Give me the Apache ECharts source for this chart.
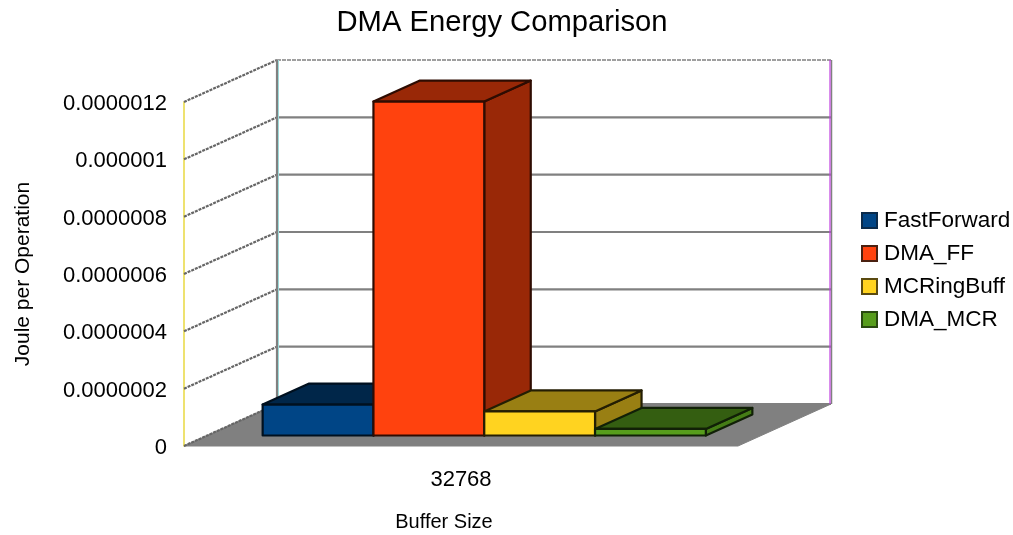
<!DOCTYPE html>
<html><head><meta charset="utf-8">
<style>html,body{margin:0;padding:0;background:#fff}#c{width:1013px;height:535px}</style>
<script src="https://cdn.jsdelivr.net/npm/echarts@6/dist/echarts.min.js"></script>
</head><body><div id="c"></div>
<script>
var categories = ['32768'];
var fastForward = [0.000000108];
var dmaFF = [0.000001165];
var mcRingBuff = [0.000000084];
var dmaMCR = [0.000000023];
var yTicks = [0, 0.0000002, 0.0000004, 0.0000006, 0.0000008, 0.000001, 0.0000012];
var yTickLabels = ['0', '0.0000002', '0.0000004', '0.0000006', '0.0000008', '0.000001', '0.0000012'];

var seriesDefs = [
  {name:'FastForward', values:fastForward, front:'#004586', top:'#002649', side:'#002649', edge:'#00101f', key:'#0a2a4a'},
  {name:'DMA_FF', values:dmaFF, front:'#ff420e', top:'#992807', side:'#992807', edge:'#2e0c02', key:'#4a2010'},
  {name:'MCRingBuff', values:mcRingBuff, front:'#ffd320', top:'#997f13', side:'#997f13', edge:'#241e03', key:'#5a4a10'},
  {name:'DMA_MCR', values:dmaMCR, front:'#579d1c', top:'#345e11', side:'#457d16', edge:'#112007', key:'#2a4a10'}
];
var DEPTH = [93, -42], BAR_FRONT = 0.25, BAR_BACK = 0.75, GAP = 0.1;
var FONT = '"Liberation Sans", Arial, sans-serif';

function pt(p, d){ return [p[0] + DEPTH[0]*d, p[1] + DEPTH[1]*d]; }

function renderFloor(params, api){
  var b = api.coord([0, 0]), w = api.size([1, 0])[0];
  var l = [b[0]-w/2, b[1]], r = [b[0]+w/2, b[1]];
  return {type:'polygon', silent:true, shape:{points:[l, r, pt(r,1), pt(l,1)]}, style:{fill:'#808080', stroke:'#808080', lineWidth:1}};
}
function renderGrid(params, api){
  var v = api.value(1), c = api.coord([0, v]), w = api.size([1, 0])[0];
  var l = [c[0]-w/2, c[1]], r = [c[0]+w/2, c[1]];
  var isTop = params.dataIndex === yTicks.length-1;
  return {type:'group', silent:true, children:[
    {type:'line', shape:{x1:l[0],y1:l[1],x2:pt(l,1)[0],y2:pt(l,1)[1]}, style:{stroke:'#666666', lineWidth:2.2, lineDash:[3,1]}},
    {type:'line', shape:{x1:pt(l,1)[0],y1:pt(l,1)[1],x2:pt(r,1)[0],y2:pt(r,1)[1]}, style:{stroke:'#808080', lineWidth:isTop?1.4:2.2, lineDash:isTop?[4,1]:null}}
  ]};
}
function renderWalls(params, api){
  var b = api.coord([0, 0]), t = api.coord([0, yTicks[yTicks.length-1]]), w = api.size([1, 0])[0];
  var bl = pt([b[0]-w/2,b[1]],1), tl = pt([t[0]-w/2,t[1]],1), br = pt([b[0]+w/2,b[1]],1), tr = pt([t[0]+w/2,t[1]],1);
  return {type:'group', silent:true, children:[
    {type:'line', shape:{x1:bl[0]+1.5,y1:bl[1],x2:tl[0]+1.5,y2:tl[1]}, style:{stroke:'#9fe4e4', lineWidth:1}},
    {type:'line', shape:{x1:bl[0],y1:bl[1],x2:tl[0],y2:tl[1]}, style:{stroke:'#808080', lineWidth:2.2}},
    {type:'line', shape:{x1:br[0]+0.5,y1:br[1],x2:tr[0]+0.5,y2:tr[1]}, style:{stroke:'#808080', lineWidth:1.5}},
    {type:'line', shape:{x1:br[0]-1,y1:br[1],x2:tr[0]-1,y2:tr[1]}, style:{stroke:'#c040e0', lineWidth:1.2}}
  ]};
}
function makeBar(def, idx){
  return function(params, api){
    var b = api.coord([0, 0]), c = api.coord([0, api.value(1)]), w = api.size([1, 0])[0];
    var x0 = b[0]-w/2 + w*GAP, bw = w*(1-2*GAP)/seriesDefs.length;
    var xl = x0 + bw*idx, xr = xl + bw;
    var fbl = pt([xl,b[1]],BAR_FRONT), fbr = pt([xr,b[1]],BAR_FRONT), ftl = pt([xl,c[1]],BAR_FRONT), ftr = pt([xr,c[1]],BAR_FRONT);
    var btl = pt([xl,c[1]],BAR_BACK), btr = pt([xr,c[1]],BAR_BACK), bbr = pt([xr,b[1]],BAR_BACK);
    var s = {stroke:def.edge, lineWidth:2.2, lineJoin:'round'};
    return {type:'group', children:[
      {type:'polygon', shape:{points:[ftr,btr,bbr,fbr]}, style:Object.assign({fill:def.side}, s)},
      {type:'polygon', shape:{points:[ftl,ftr,btr,btl]}, style:Object.assign({fill:def.top}, s)},
      {type:'polygon', shape:{points:[fbl,fbr,ftr,ftl]}, style:Object.assign({fill:def.front}, s)}
    ]};
  };
}

var series = [
  {type:'custom', name:'floor', silent:true, z:1, renderItem:renderFloor, data:[[0,0]], encode:{x:0,y:1}},
  {type:'custom', name:'grid', silent:true, z:2, renderItem:renderGrid, data:yTicks.map(function(v){return [0,v];}), encode:{x:0,y:1}},
  {type:'custom', name:'walls', silent:true, z:3, renderItem:renderWalls, data:[[0,0]], encode:{x:0,y:1}}
];
seriesDefs.forEach(function(d,i){
  series.push({type:'custom', name:d.name, z:4+i, renderItem:makeBar(d,i),
    itemStyle:{color:d.front, borderColor:d.key, borderWidth:1},
    data:d.values.map(function(v,k){return [k,v];}), encode:{x:0,y:1}});
});

var chart = echarts.init(document.getElementById('c'), null, {renderer:'canvas'});
chart.setOption({
  animation:false,
  backgroundColor:'#fff',
  title:{text:'DMA Energy Comparison', left:502, top:8, padding:0, textAlign:'center',
    textStyle:{fontFamily:FONT, fontSize:29.2, fontWeight:'normal', color:'#000'}},
  legend:{data:seriesDefs.map(function(d){return d.name;}), orient:'vertical', left:861, top:209, padding:0,
    icon:'rect', itemWidth:15, itemHeight:15, itemGap:10,
    textStyle:{fontFamily:FONT, fontSize:22.5, color:'#000', padding:[0,0,0,2]}},
  grid:{left:184, right:275, top:102, bottom:89, containLabel:false, outerBoundsMode:'none'},
  xAxis:{type:'category', data:categories, name:'Buffer Size', nameLocation:'middle', nameGap:66,
    nameTextStyle:{fontFamily:FONT, fontSize:20, color:'#000', padding:[0,34,0,0]},
    axisLine:{show:false}, axisTick:{show:false}, splitLine:{show:false},
    axisLabel:{fontFamily:FONT, fontSize:22, color:'#000', margin:23}},
  yAxis:{type:'value', min:0, max:0.0000012, interval:0.0000002,
    name:'Joule per Operation', nameLocation:'middle', nameGap:150, nameRotate:90,
    nameTextStyle:{fontFamily:FONT, fontSize:21, color:'#000'},
    axisLine:{show:true, lineStyle:{color:'#e8d840', width:1.5}}, axisTick:{show:false}, splitLine:{show:false},
    axisLabel:{fontFamily:FONT, fontSize:22, color:'#000', margin:17, verticalAlign:'top', lineHeight:4,
      formatter:function(v){ var i = Math.round(v/0.0000002); return yTickLabels[i]; }}},
  series:series
});
</script></body></html>
